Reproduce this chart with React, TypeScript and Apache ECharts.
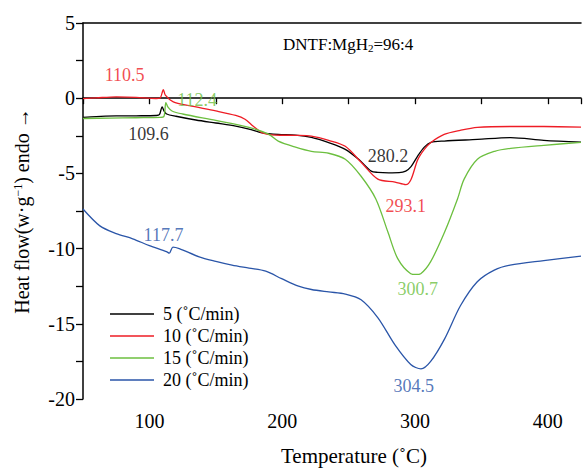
import React, { useEffect, useRef } from "react";
import * as echarts from "echarts";

const seriesNames = ["5 (˚C/min)", "10 (˚C/min)", "15 (˚C/min)", "20 (˚C/min)"];
const seriesColors = ["#000000", "#ee1c25", "#6cbf3f", "#2a55a8"];

const rate5: number[][] = [
  [50, -1.28], [60, -1.22], [75, -1.18], [90, -1.17], [105, -1.15], [107.5, -1.1], [109.6, -0.58],
  [111, -0.85], [113, -1.05], [120, -1.2], [135, -1.45], [150, -1.65], [165, -1.85], [175, -2.05],
  [185, -2.3], [197, -2.41], [210, -2.45], [222, -2.6], [235, -2.95], [247.5, -3.4], [258, -4.1],
  [267, -4.85], [272, -4.93], [280.2, -4.96], [288, -4.95], [293, -4.85], [297, -4.55], [302, -3.85],
  [307, -3.25], [312, -2.94], [322, -2.85], [347, -2.74], [372, -2.62], [397, -2.8], [425, -2.92],
];
const rate10: number[][] = [
  [50, -0.03], [60, 0.02], [75, 0.09], [90, 0.06], [105, -0.02], [108, 0.0], [110.5, 0.57],
  [112, 0.2], [118, -0.25], [130, -0.5], [150, -0.85], [165, -1.15], [172, -1.4], [178, -1.85],
  [185, -2.3], [195, -2.45], [210, -2.47], [222, -2.52], [235, -2.8], [247.5, -3.2], [259.4, -4.26],
  [272, -5.38], [285, -5.58], [293.1, -5.75], [297, -5.4], [302, -4.1], [307, -3.4], [312, -2.94],
  [322, -2.41], [334, -2.14], [347, -1.94], [372, -1.88], [397, -1.88], [425, -1.92],
];
const rate15: number[][] = [
  [50, -1.35], [70, -1.32], [90, -1.3], [108, -1.28], [111, -1.2], [112.4, -0.3], [114, -0.6],
  [117, -0.85], [125, -1.05], [150, -1.48], [175, -1.94], [190, -2.41], [197, -2.85], [210, -3.25],
  [222, -3.53], [235, -3.66], [247.5, -4.06], [259.4, -5.19], [270.5, -6.7], [279.6, -8.9],
  [287, -10.67], [296.8, -11.67], [300.7, -11.72], [304.3, -11.67], [311.8, -10.87], [322.3, -8.9],
  [332, -6.7], [337, -5.38], [347, -4.06], [360, -3.53], [372, -3.33], [397, -3.13], [425, -2.94],
];
const rate20: number[][] = [
  [50, -7.37], [62.7, -8.49], [75, -9.0], [87.4, -9.35], [100, -9.8], [112.8, -10.2], [115, -10.3],
  [117.7, -9.9], [122.5, -10.0], [137.5, -10.55], [150, -10.85], [162.2, -11.1], [175, -11.3],
  [187.6, -11.5], [199.6, -12.0], [212.3, -12.5], [222, -12.72], [235, -12.88], [247.5, -13.02],
  [259.4, -13.4], [272.1, -14.6], [284.9, -16.4], [296.8, -17.7], [304.5, -18.0], [311.8, -17.5],
  [322.3, -16.0], [334.2, -13.8], [346.9, -12.2], [359.7, -11.43], [371.6, -11.1], [397, -10.8],
  [425, -10.5],
];

const annotationText = ["110.5", "112.4", "109.6", "280.2", "293.1", "300.7", "117.7", "304.5"];
const annotationX = [81.4, 136, 99.4, 279.6, 293, 302, 110.6, 299];
const annotationY = [1.56, -0.09, -2.41, -3.86, -7.17, -12.66, -9.09, -19.14];
const annotationSeries = [1, 2, 0, 0, 1, 2, 3, 3];

const xTicks = [100, 200, 300, 400];
const yTicks = [5, 0, -5, -10, -15, -20];

const FONT = "Liberation Serif";

export default function App() {
  const ref = useRef<HTMLDivElement>(null);
  useEffect(() => {
    if (!ref.current) return;
    const chart = echarts.init(ref.current, null, { renderer: "svg" });
    const data = [rate5, rate10, rate15, rate20];
    const lines = data.map((d, i) => ({
      name: seriesNames[i],
      type: "line",
      data: d,
      symbol: "none",
      smooth: 0.3,
      xAxisIndex: 0,
      lineStyle: { color: seriesColors[i], width: 1.3 },
      itemStyle: { color: seriesColors[i] },
      z: 3 + i,
    }));
    const labels = {
      type: "scatter",
      name: "labels",
      symbolSize: 0,
      xAxisIndex: 0,
      silent: true,
      data: annotationText.map((t, i) => ({
        value: [annotationX[i], annotationY[i]],
        name: t,
        label: { color: seriesColors[annotationSeries[i]] },
      })),
      label: {
        show: true,
        position: "inside",
        formatter: (p: any) => p.name,
        fontFamily: FONT,
        fontSize: 18,
      },
      z: 10,
    };
    chart.setOption({
      animation: false,
      textStyle: { fontFamily: FONT },
      grid: { left: 83, top: 23, right: 0, bottom: 70 },
      legend: {
        data: seriesNames.map((n) => ({ name: n, icon: "rect" })),
        orient: "vertical",
        left: 105,
        top: 300,
        itemWidth: 44,
        itemHeight: 1.4,
        itemGap: 4,
        textStyle: { fontFamily: FONT, fontSize: 18, color: "#000", padding: [0, 0, 0, 4] },
      },
      xAxis: [
        {
          type: "value",
          min: 50,
          max: 425,
          interval: 50,
          name: "Temperature (˚C)",
          nameLocation: "middle",
          nameGap: 46,
          nameTextStyle: { fontFamily: FONT, fontSize: 21, color: "#000", padding: [0, 0, 0, 44] },
          axisLine: { lineStyle: { color: "#000", width: 1.5 } },
          axisTick: { inside: false, length: 6, lineStyle: { color: "#000", width: 1.3 } },
          axisLabel: {
            fontFamily: FONT,
            fontSize: 20,
            color: "#000",
            margin: 12,
            formatter: (v: number) => (xTicks.includes(v) ? String(v) : ""),
          },
          splitLine: { show: false },
        },
        {
          type: "value",
          position: "top",
          min: 50,
          max: 425,
          axisLine: { show: true, lineStyle: { color: "#000", width: 1.5 } },
          axisTick: { show: false },
          axisLabel: { show: false },
          splitLine: { show: false },
        },
      ],
      yAxis: {
        type: "value",
        min: -20,
        max: 5,
        interval: 2.5,
        name: "Heat flow(w·g{sup|−1}) endo →",
        nameLocation: "middle",
        nameGap: 51,
        nameTextStyle: {
          fontFamily: FONT,
          fontSize: 20,
          color: "#000",
          rich: { sup: { fontFamily: FONT, fontSize: 12, verticalAlign: "top", color: "#000" } },
        },
        axisLine: { show: true, lineStyle: { color: "#000", width: 1.5 } },
        axisTick: { inside: false, length: 7, lineStyle: { color: "#000", width: 1.3 } },
        axisLabel: {
          fontFamily: FONT,
          fontSize: 20,
          color: "#000",
          margin: 8,
          formatter: (v: number) => (yTicks.includes(v) ? String(v) : ""),
        },
        splitLine: { show: false },
      },
      graphic: [
        {
          type: "text",
          left: 283,
          top: 36,
          style: {
            text: "DNTF:MgH{sub|2}=96:4",
            fontFamily: FONT,
            fontSize: 17,
            fill: "#000",
            rich: { sub: { fontFamily: FONT, fontSize: 11, verticalAlign: "bottom", fill: "#000" } },
          },
        },
      ],
      series: [...lines, labels],
    });
    return () => chart.dispose();
  }, []);
  return (
    <div
      ref={ref}
      style={{ position: "fixed", left: 0, top: 0, width: 584, height: 471, background: "#fff" }}
    />
  );
}
